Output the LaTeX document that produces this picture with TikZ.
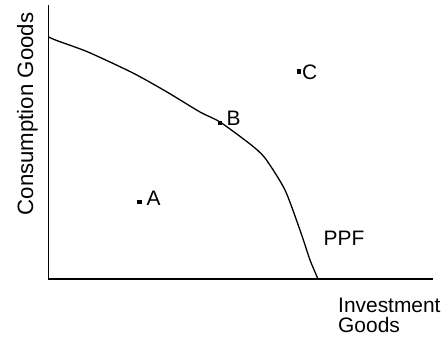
\documentclass[tikz,border=0pt]{standalone}
\usepackage{fontspec}
\setmainfont{Liberation Sans}
\usetikzlibrary{positioning}
\tikzset{
  axisline/.style={line width=1.7bp, line cap=rect},
  ppfcurve/.style={line width=1.3bp, line join=round},
  ptdot/.style={fill=black, minimum size=4.6bp, inner sep=0pt},
  ptlabel/.style={inner sep=0pt, anchor=base west},
  axislabel/.style={inner sep=0pt, align=left}
}

\begin{document}
\begin{tikzpicture}[x=1bp, y=-1bp, every node/.style={font=\fontsize{21}{20}\selectfont}]
      \useasboundingbox (0,0) rectangle (446,337);
      % axes
      \coordinate (ytop) at (48.5,6);
      \coordinate (origin) at (48.5,279);
      \coordinate (xend) at (432,279);
      \draw[axisline] (ytop) -- (origin) -- (xend);
      \node[axislabel, rotate=90, anchor=base, font=\fontsize{22.3}{24}\selectfont] (ylab) at (33,114) {Consumption Goods};
      \node[axislabel, anchor=base west] (xlab) at (338,332) {Investment\\Goods};
      % frontier
      \draw[ppfcurve] plot[smooth, tension=0.4] coordinates {(48.5,37) (58,41) (88,52) (133,73) (167,92)
        (200,112) (220,122) (250,144) (265,158) (285,190) (301,233) (310,260) (318,279)};
      \node[ptlabel] (ppf) at (323.5,245) {PPF};
      % points
      \node[ptdot] (pa) at (139.5,202) {};
      \node[ptdot] (pb) at (220,123) {};
      \node[ptdot] (pc) at (299,71.5) {};
      \node[ptlabel] (la) at (146.5,205) {A};
      \node[ptlabel] (lb) at (226.5,125) {B};
      \node[ptlabel] (lc) at (302,79) {C};
    \end{tikzpicture}
\end{document}
